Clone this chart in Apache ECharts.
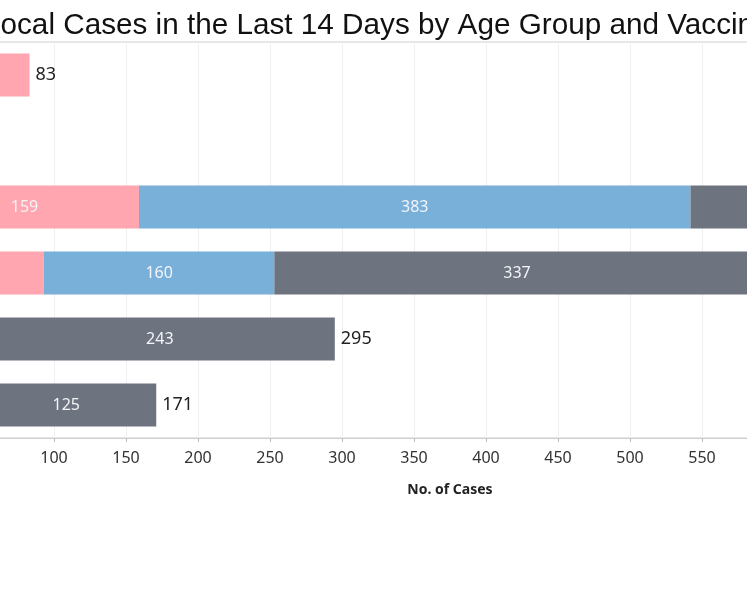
<!DOCTYPE html>
<html><head><meta charset="utf-8">
<script src="https://cdn.jsdelivr.net/npm/echarts@6/dist/echarts.min.js"></script>
<style>html,body{margin:0;padding:0;background:#fff}#c{width:747px;height:598px}</style>
</head><body><div id="c"></div>
<script>
var titleText = "Local Cases in the Last 14 Days by Age Group and Vaccination Status";
var categories = ["0-11", "12-19", "20-39", "40-59", "60-69", "70+"];
var unvaccinated = [83, 10, 159, 93, 20, 18];
var partial = [0, 6, 383, 160, 32, 28];
var full = [0, 8, 178, 337, 243, 125];
var totals = categories.map(function(_, i){ return unvaccinated[i] + partial[i] + full[i]; });

var chart = echarts.init(document.getElementById('c'));
var inLabel = {
  show: true, position: 'inside', color: '#f2f4f7', fontSize: 16,
  fontFamily: 'Noto Sans, sans-serif',
  formatter: function(p){ return p.value ? String(p.value) : ''; }
};
function seg(name, data, color){
  return { name: name, type: 'bar', stack: 'a', data: data, barWidth: '65%',
    itemStyle: { color: color }, label: inLabel, silent: true, z: 3 };
}
chart.setOption({
  animation: false,
  title: { text: titleText, left: -21, top: 6,
    textStyle: { fontFamily: 'Liberation Sans, Arial, sans-serif', fontWeight: 'normal', fontSize: 29.7, color: '#111' } },
  grid: { left: -90, right: -243, top: 42, bottom: 160, show: true, borderColor: '#cfcfcf', borderWidth: 1,
    containLabel: false, outerBoundsMode: 'none' },
  xAxis: {
    type: 'value', min: 0, max: 750, interval: 50,
    name: 'No. of Cases', nameLocation: 'middle', nameGap: 45,
    nameTextStyle: { fontWeight: 'bold', fontSize: 14, color: '#222', fontFamily: 'Noto Sans, sans-serif' },
    axisLine: { show: true, lineStyle: { color: '#cfcfcf' } },
    axisTick: { show: true, length: 4, lineStyle: { color: '#bbb' } },
    axisLabel: { fontSize: 16, color: '#333', margin: 12, fontFamily: 'Noto Sans, sans-serif' },
    splitLine: { show: true, lineStyle: { color: '#f0f0f0' } }
  },
  yAxis: {
    type: 'category', data: categories, inverse: true,
    axisLine: { show: false }, axisTick: { show: false }, axisLabel: { show: false }
  },
  series: [
    seg('Unvaccinated', unvaccinated, '#ffa6b1'),
    seg('Partially Vaccinated', partial, '#79b0d9'),
    seg('Fully Vaccinated', full, '#6d737f'),
    { name: 'Total', type: 'bar', data: totals, barWidth: '65%', barGap: '-100%', z: 1, silent: true,
      itemStyle: { color: 'rgba(0,0,0,0)' },
      label: { show: true, position: 'right', distance: 6, color: '#222', fontSize: 18,
        fontFamily: 'Noto Sans, sans-serif' } }
  ]
});
</script></body></html>
